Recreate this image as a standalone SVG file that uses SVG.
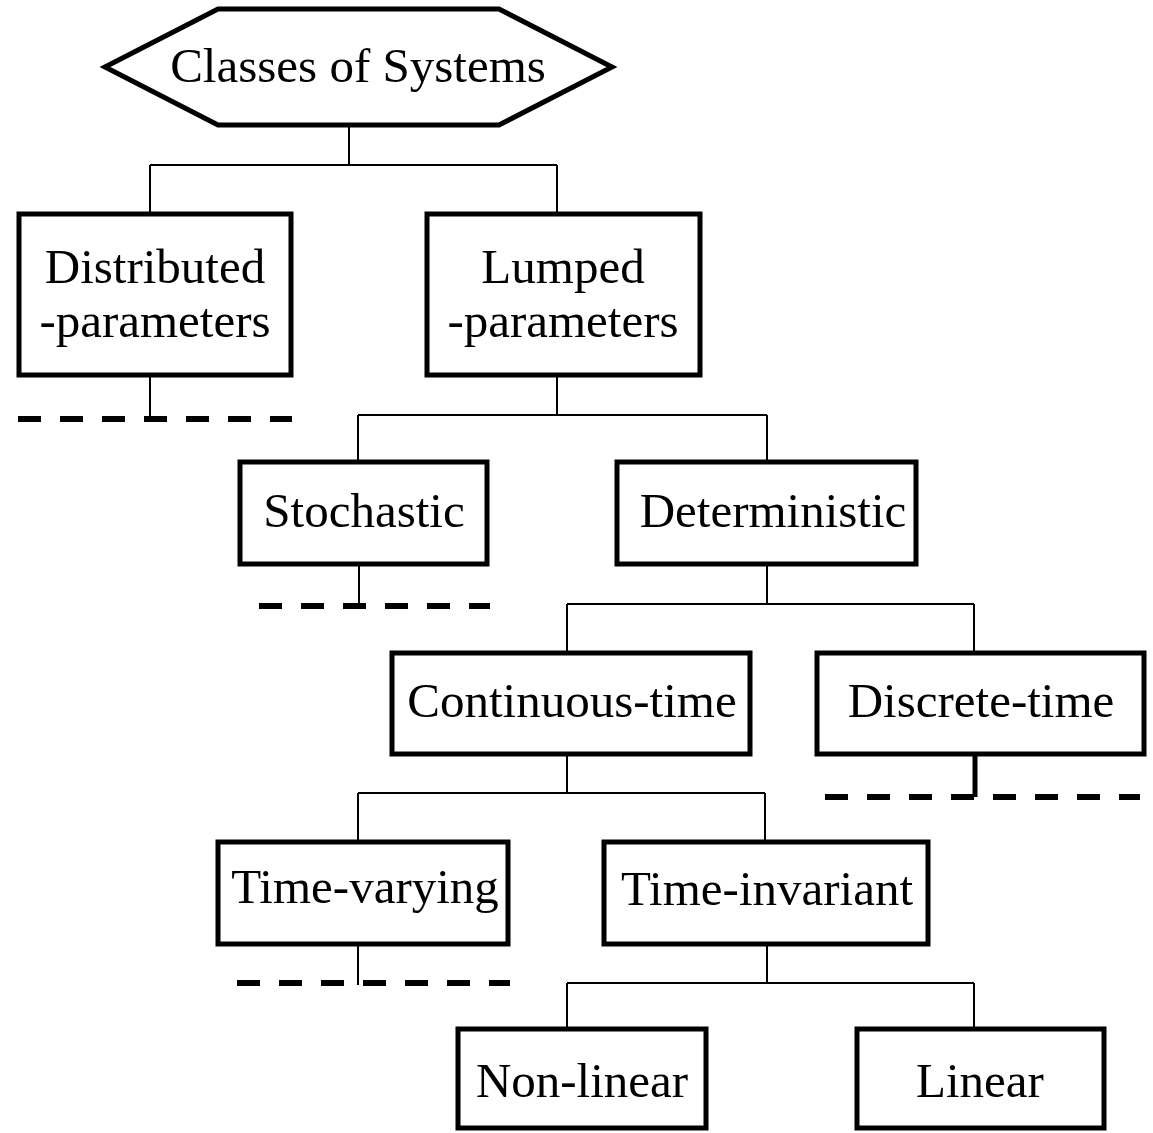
<svg xmlns="http://www.w3.org/2000/svg" width="1153" height="1133" viewBox="0 0 1153 1133">
<style>
.box{fill:#fff;stroke:#000;stroke-width:5}
.lbl{font-family:"Liberation Serif","Times New Roman",serif;font-size:49px;fill:#000;text-anchor:middle}
.ln{fill:none;stroke:#000;stroke-width:2}
.dash{fill:none;stroke:#000;stroke-width:6;stroke-dasharray:23 19}
</style>
<rect width="1153" height="1133" fill="#fff"/>
<g id="connectors">
<path class="ln" d="M349 125V165M150 165H557M150 165V212M557 165V212"/>
<path class="ln" d="M150 377V419"/>
<path class="dash" d="M18 419H292"/>
<path class="ln" d="M557 377V415M358 415H767M358 415V460M767 415V460"/>
<path class="ln" d="M359 566V606"/>
<path class="dash" d="M259 606H490"/>
<path class="ln" d="M767 566V604M567 604H974M567 604V651M974 604V651"/>
<path fill="none" stroke="#000" stroke-width="5" d="M975 756V797"/>
<path class="dash" d="M825 797H1140"/>
<path class="ln" d="M567 756V793M358 793H765M358 793V840M765 793V840"/>
<path class="ln" d="M358 946V985"/>
<path class="dash" d="M237 983H510"/>
<path class="ln" d="M767 946V983M567 983H974M567 983V1027M974 983V1027"/>
</g>
<g id="classes">
<polygon class="box" points="105,67 218,9 499,9 612,67 499,125 218,125"/>
<text class="lbl" x="358" y="82">Classes of Systems</text>
</g>
<g id="distributed">
<rect class="box" x="19" y="214" width="272" height="161"/>
<text class="lbl" x="155" y="283">Distributed</text>
<text class="lbl" x="155" y="337">-parameters</text>
</g>
<g id="lumped">
<rect class="box" x="427" y="214" width="273" height="161"/>
<text class="lbl" x="563" y="283">Lumped</text>
<text class="lbl" x="563" y="337">-parameters</text>
</g>
<g id="stochastic">
<rect class="box" x="240" y="462" width="247" height="102"/>
<text class="lbl" x="364" y="527">Stochastic</text>
</g>
<g id="deterministic">
<rect class="box" x="617" y="462" width="299" height="102"/>
<text class="lbl" x="773" y="527">Deterministic</text>
</g>
<g id="continuous">
<rect class="box" x="392" y="653" width="358" height="101"/>
<text class="lbl" x="572" y="717">Continuous-time</text>
</g>
<g id="discrete">
<rect class="box" x="817" y="653" width="327" height="101"/>
<text class="lbl" x="981" y="717">Discrete-time</text>
</g>
<g id="timevarying">
<rect class="box" x="218" y="842" width="290" height="102"/>
<text class="lbl" x="365" y="903">Time-varying</text>
</g>
<g id="timeinvariant">
<rect class="box" x="604" y="842" width="324" height="102"/>
<text class="lbl" x="767" y="905">Time-invariant</text>
</g>
<g id="nonlinear">
<rect class="box" x="458" y="1029" width="248" height="99"/>
<text class="lbl" x="582" y="1097">Non-linear</text>
</g>
<g id="linear">
<rect class="box" x="857" y="1029" width="247" height="99"/>
<text class="lbl" x="980" y="1097">Linear</text>
</g>
</svg>
